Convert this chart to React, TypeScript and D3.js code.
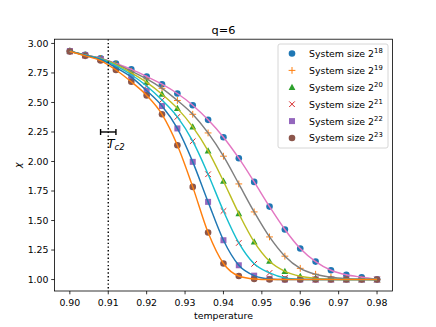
import React from "react";
import * as d3 from "d3";

const temps = [0.900, 0.904, 0.908, 0.912, 0.916, 0.920, 0.924, 0.928, 0.932, 0.936, 0.940, 0.944, 0.948, 0.952, 0.956, 0.960, 0.964, 0.968, 0.972, 0.976, 0.980];

const size18 = [2.935, 2.903, 2.875, 2.830, 2.780, 2.720, 2.655, 2.576, 2.477, 2.353, 2.206, 2.028, 1.827, 1.618, 1.424, 1.263, 1.152, 1.079, 1.040, 1.020, 1.003];
const size19 = [2.935, 2.902, 2.873, 2.825, 2.765, 2.700, 2.620, 2.517, 2.400, 2.242, 2.045, 1.810, 1.573, 1.361, 1.198, 1.095, 1.045, 1.020, 1.008, 1.003, 1.000];
const size20 = [2.935, 2.901, 2.870, 2.820, 2.750, 2.670, 2.570, 2.450, 2.293, 2.090, 1.833, 1.559, 1.319, 1.155, 1.070, 1.028, 1.010, 1.003, 1.000, 1.000, 1.000];
const size21 = [2.934, 2.900, 2.868, 2.810, 2.735, 2.640, 2.520, 2.378, 2.172, 1.892, 1.581, 1.310, 1.133, 1.056, 1.014, 1.003, 1.000, 1.000, 1.000, 1.000, 1.000];
const size22 = [2.934, 2.899, 2.865, 2.795, 2.715, 2.600, 2.470, 2.280, 1.997, 1.658, 1.333, 1.121, 1.033, 1.005, 1.000, 1.000, 1.000, 1.000, 1.000, 1.000, 1.000];
const size23 = [2.932, 2.895, 2.855, 2.775, 2.675, 2.560, 2.400, 2.138, 1.785, 1.398, 1.136, 1.030, 1.005, 1.000, 1.000, 1.000, 1.000, 1.000, 1.000, 1.000, 1.000];

const exponents = ["18", "19", "20", "21", "22", "23"];
const seriesValues = [size18, size19, size20, size21, size22, size23];
const markerColors = ["#1f77b4", "#ff7f0e", "#2ca02c", "#d62728", "#9467bd", "#8c564b"];
const markerShapes = ["circle", "plus", "triangle", "x", "square", "circle"];
const lineColors = ["#e377c2", "#7f7f7f", "#bcbd22", "#17becf", "#1f77b4", "#ff7f0e"];

const xTicks = [0.90, 0.91, 0.92, 0.93, 0.94, 0.95, 0.96, 0.97, 0.98];
const yTicks = [1.00, 1.25, 1.50, 1.75, 2.00, 2.25, 2.50, 2.75, 3.00];

const tc2 = 0.91;
const tc2Err = 0.002;
const tc2Y = 2.25;

const W = 436, H = 327;
const left = 54.5, right = 392.4, top = 39.2, bottom = 291;
const FONT = "DejaVu Sans, sans-serif";

function Marker({ shape, color, x, y }: { shape: string; color: string; x: number; y: number }) {
  const r = 3.3;
  if (shape === "circle") return <circle cx={x} cy={y} r={r} fill={color} />;
  if (shape === "square") return <rect x={x - 3} y={y - 3} width={6} height={6} fill={color} />;
  if (shape === "triangle")
    return <path d={`M${x},${y - 3.6}L${x + 3.4},${y + 2.6}L${x - 3.4},${y + 2.6}Z`} fill={color} />;
  if (shape === "plus")
    return <path d={`M${x - 3.4},${y}H${x + 3.4}M${x},${y - 3.4}V${y + 3.4}`} stroke={color} strokeWidth={1} fill="none" />;
  return <path d={`M${x - 2.8},${y - 2.8}L${x + 2.8},${y + 2.8}M${x - 2.8},${y + 2.8}L${x + 2.8},${y - 2.8}`} stroke={color} strokeWidth={1} fill="none" />;
}

export default function App() {
  const x = d3.scaleLinear().domain([0.896, 0.984]).range([left, right]);
  const y = d3.scaleLinear().domain([0.903, 3.036]).range([bottom, top]);
  const line = d3
    .line<number>()
    .x((_, i) => x(temps[i]))
    .y((v) => y(v))
    .curve(d3.curveMonotoneX);

  const legendX = 278, legendY = 44;
  const legendRowY = (i: number) => 53.5 + i * 16.9;

  return (
    <svg width={W} height={H} style={{ position: "absolute", left: 0, top: 0, background: "#fff" }} fontFamily={FONT}>
      <rect x={0} y={0} width={W} height={H} fill="#fff" />
      <defs>
        <clipPath id="plotclip">
          <rect x={left} y={top} width={right - left} height={bottom - top} />
        </clipPath>
      </defs>
      <g clipPath="url(#plotclip)">
        {seriesValues.map((vals, s) =>
          vals.map((v, i) => (
            <Marker key={`m${s}-${i}`} shape={markerShapes[s]} color={markerColors[s]} x={x(temps[i])} y={y(v)} />
          ))
        )}
        {seriesValues.map((vals, s) => (
          <path key={`l${s}`} d={line(vals) || ""} fill="none" stroke={lineColors[s]} strokeWidth={1.45} />
        ))}
        <line x1={x(tc2)} x2={x(tc2)} y1={top} y2={bottom} stroke="#000" strokeWidth={1.4} strokeDasharray="1.4,2.3" />
      </g>
      {/* error bar */}
      <g stroke="#000" strokeWidth={1.4}>
        <line x1={x(tc2 - tc2Err)} x2={x(tc2 + tc2Err)} y1={y(tc2Y)} y2={y(tc2Y)} />
        <line x1={x(tc2 - tc2Err)} x2={x(tc2 - tc2Err)} y1={y(tc2Y) - 3} y2={y(tc2Y) + 3} />
        <line x1={x(tc2 + tc2Err)} x2={x(tc2 + tc2Err)} y1={y(tc2Y) - 3} y2={y(tc2Y) + 3} />
      </g>
      <text x={x(tc2) - 1} y={y(tc2Y) + 16} fontSize={12} fontStyle="italic" fill="#000">
        T<tspan fontSize={8.5} dy={2.5}>c2</tspan>
      </text>

      {/* frame */}
      <rect x={left} y={top} width={right - left} height={bottom - top} fill="none" stroke="#000" strokeWidth={0.8} />

      {/* x axis */}
      {xTicks.map((t) => (
        <g key={`xt${t}`}>
          <line x1={x(t)} x2={x(t)} y1={bottom} y2={bottom + 3.3} stroke="#000" strokeWidth={0.8} />
          <text x={x(t)} y={bottom + 15} fontSize={9.4} textAnchor="middle" fill="#000">
            {t.toFixed(2)}
          </text>
        </g>
      ))}
      <text x={(left + right) / 2} y={319} fontSize={9.4} textAnchor="middle" fill="#000">
        temperature
      </text>

      {/* y axis */}
      {yTicks.map((t) => (
        <g key={`yt${t}`}>
          <line x1={left - 3.3} x2={left} y1={y(t)} y2={y(t)} stroke="#000" strokeWidth={0.8} />
          <text x={left - 6} y={y(t) + 3.4} fontSize={9.4} textAnchor="end" fill="#000">
            {t.toFixed(2)}
          </text>
        </g>
      ))}
      <text transform={`translate(21,${(top + bottom) / 2}) rotate(-90)`} fontSize={9.4} fontStyle="italic" textAnchor="middle" fill="#000">
        χ
      </text>

      {/* title */}
      <text x={(left + right) / 2} y={33.5} fontSize={11.3} textAnchor="middle" fill="#000">
        q=6
      </text>

      {/* legend */}
      <rect x={legendX} y={legendY} width={110} height={104} rx={2} fill="#fff" fillOpacity={0.8} stroke="#cccccc" strokeWidth={0.8} />
      {exponents.map((e, i) => (
        <g key={`lg${i}`}>
          <Marker shape={markerShapes[i]} color={markerColors[i]} x={292} y={legendRowY(i)} />
          <text x={309} y={legendRowY(i) + 3.4} fontSize={9.4} fill="#000">
            System size 2<tspan fontSize={6.8} dy={-4}>{e}</tspan>
          </text>
        </g>
      ))}
    </svg>
  );
}
